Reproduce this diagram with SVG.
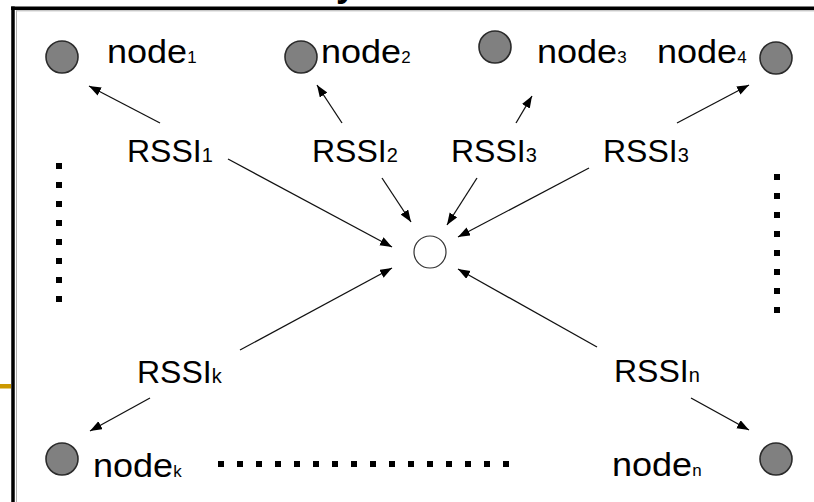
<svg xmlns="http://www.w3.org/2000/svg" width="814" height="502" viewBox="0 0 814 502">
<defs>
<style>
.frame{stroke:#000;stroke-width:3.5;fill:none}
.shade{stroke:#b0b0b0;stroke-width:1;fill:none}
.dot{fill:#808080;stroke:#2b2b2b;stroke-width:1.6}
.hub{fill:#fff;stroke:#333;stroke-width:1.2}
.nl{font-family:"Liberation Sans",Arial,sans-serif;font-size:34px;fill:#000}
.nl .sub{font-size:16px}
.rl{font-family:"Liberation Sans",Arial,sans-serif;font-size:32px;fill:#000}
.rl .sub{font-size:20px}
.conn line{stroke:#111;stroke-width:1.3;marker-end:url(#ah)}
.sq{fill:#000}
</style>
<marker id="ah" markerUnits="userSpaceOnUse" markerWidth="13" markerHeight="10" refX="12" refY="4.5" orient="auto">
<path d="M0,0 L12,4.5 L0,9 z" fill="#000"/>
</marker>
</defs>
<rect width="814" height="502" fill="#fff"/>
<text x="336" y="-4" font-family="Liberation Sans,Arial,sans-serif" font-size="36" font-weight="bold">y</text>
<g id="frame">
<line class="shade" x1="16.5" y1="10.5" x2="16.5" y2="502"/>
<line class="shade" x1="16" y1="10.8" x2="814" y2="10.8"/>
<line class="frame" x1="11" y1="8.3" x2="814" y2="8.3"/>
<line class="frame" x1="13" y1="6.5" x2="13" y2="502"/>
<rect x="0" y="384" width="11" height="4.5" fill="#cc9900"/>
</g>
<g id="center"><circle class="hub" cx="430" cy="252" r="16"/></g>
<g id="node1"><circle class="dot" cx="62" cy="57" r="16"/><text class="nl" transform="translate(107,63) scale(1.06,1)">node<tspan class="sub">1</tspan></text></g>
<g id="node2"><circle class="dot" cx="301" cy="57" r="16"/><text class="nl" transform="translate(321,63) scale(1.06,1)">node<tspan class="sub">2</tspan></text></g>
<g id="node3"><circle class="dot" cx="495" cy="47" r="16"/><text class="nl" transform="translate(537,63) scale(1.06,1)">node<tspan class="sub">3</tspan></text></g>
<g id="node4"><circle class="dot" cx="776" cy="58" r="16"/><text class="nl" transform="translate(657,63) scale(1.06,1)">node<tspan class="sub">4</tspan></text></g>
<g id="nodek"><circle class="dot" cx="62" cy="459" r="16"/><text class="nl" transform="translate(93,477) scale(1.06,1)">node<tspan class="sub">k</tspan></text></g>
<g id="noden"><circle class="dot" cx="776" cy="459" r="16"/><text class="nl" transform="translate(612,476) scale(1.06,1)">node<tspan class="sub">n</tspan></text></g>
<g id="labels">
<text class="rl" x="127" y="162">RSSI<tspan class="sub">1</tspan></text>
<text class="rl" x="312" y="162">RSSI<tspan class="sub">2</tspan></text>
<text class="rl" x="451" y="162">RSSI<tspan class="sub">3</tspan></text>
<text class="rl" x="603" y="162">RSSI<tspan class="sub">3</tspan></text>
<text class="rl" x="137" y="383">RSSI<tspan class="sub">k</tspan></text>
<text class="rl" x="614" y="382">RSSI<tspan class="sub">n</tspan></text>
</g>
<g id="dots" class="sq">
<rect x="56" y="163" width="6" height="6"/><rect x="56" y="182" width="6" height="6"/><rect x="56" y="201" width="6" height="6"/><rect x="56" y="220" width="6" height="6"/><rect x="56" y="239" width="6" height="6"/><rect x="56" y="258" width="6" height="6"/><rect x="56" y="277" width="6" height="6"/><rect x="56" y="296" width="6" height="6"/>
<rect x="774" y="174" width="6" height="6"/><rect x="774" y="193" width="6" height="6"/><rect x="774" y="212" width="6" height="6"/><rect x="774" y="231" width="6" height="6"/><rect x="774" y="250" width="6" height="6"/><rect x="774" y="269" width="6" height="6"/><rect x="774" y="288" width="6" height="6"/><rect x="774" y="307" width="6" height="6"/>
<rect x="218" y="461" width="6" height="6"/><rect x="237" y="461" width="6" height="6"/><rect x="256" y="461" width="6" height="6"/><rect x="275" y="461" width="6" height="6"/><rect x="294" y="461" width="6" height="6"/><rect x="313" y="461" width="6" height="6"/><rect x="332" y="461" width="6" height="6"/><rect x="351" y="461" width="6" height="6"/><rect x="370" y="461" width="6" height="6"/><rect x="389" y="461" width="6" height="6"/><rect x="408" y="461" width="6" height="6"/><rect x="427" y="461" width="6" height="6"/><rect x="446" y="461" width="6" height="6"/><rect x="465" y="461" width="6" height="6"/><rect x="484" y="461" width="6" height="6"/><rect x="503" y="461" width="6" height="6"/>
</g>
<g id="connectors" class="conn">
<line x1="160" y1="123" x2="89" y2="86"/>
<line x1="228" y1="159" x2="392" y2="247"/>
<line x1="342" y1="123" x2="317" y2="85"/>
<line x1="382" y1="178" x2="411" y2="222"/>
<line x1="516" y1="123" x2="532" y2="96"/>
<line x1="477" y1="178" x2="447" y2="225"/>
<line x1="677" y1="123" x2="749" y2="85"/>
<line x1="589" y1="168" x2="458" y2="237"/>
<line x1="240" y1="350" x2="392" y2="268"/>
<line x1="150" y1="398" x2="90" y2="431"/>
<line x1="597" y1="347" x2="458" y2="269"/>
<line x1="691" y1="398" x2="749" y2="430"/>
</g>
</svg>
